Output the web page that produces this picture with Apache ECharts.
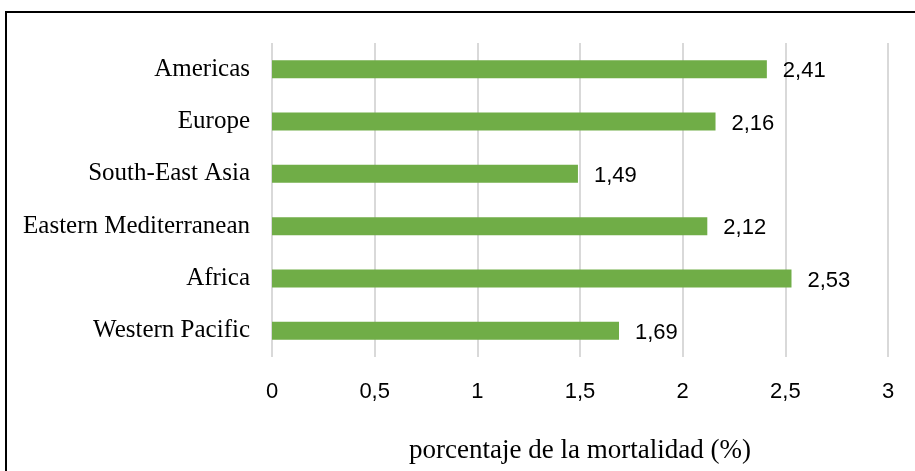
<!DOCTYPE html>
<html>
<head>
<meta charset="utf-8">
<script src="https://cdn.jsdelivr.net/npm/echarts@6/dist/echarts.min.js"></script>
<style>
  html, body { margin: 0; padding: 0; background: #fff; }
  #chart { width: 915px; height: 471px; }
</style>
</head>
<body>
<div id="chart"></div>
<script>
// Regions, listed top to bottom
const regions = ['Americas', 'Europe', 'South-East Asia', 'Eastern Mediterranean', 'Africa', 'Western Pacific'];
// Mortality percentage per region
const mortality = [2.41, 2.16, 1.49, 2.12, 2.53, 1.69];
// Axis settings
const xMin = 0, xMax = 3, xStep = 0.5;
const axisTitle = 'porcentaje de la mortalidad (%)';

const fmt = v => String(v).replace('.', ',');

const chart = echarts.init(document.getElementById('chart'), null, { renderer: 'canvas' });
chart.setOption({
  animation: false,
  backgroundColor: '#ffffff',
  grid: { left: 272, right: 27, top: 43, bottom: 114, containLabel: false },
  graphic: [{
    type: 'rect',
    shape: { x: 6, y: 12, width: 930, height: 480 },
    style: { fill: 'none', stroke: '#000', lineWidth: 2 },
    silent: true
  }],
  xAxis: {
    type: 'value',
    min: xMin, max: xMax, interval: xStep,
    axisLine: { show: false },
    axisTick: { show: false },
    splitLine: { show: true, lineStyle: { color: '#d9d9d9', width: 2 } },
    axisLabel: {
      color: '#000', fontFamily: 'Liberation Sans', fontSize: 22, margin: 24,
      formatter: v => fmt(v)
    },
    name: axisTitle,
    nameLocation: 'middle',
    nameGap: 80,
    nameTextStyle: { color: '#000', fontFamily: 'Liberation Serif', fontSize: 27, verticalAlign: 'top' }
  },
  yAxis: {
    type: 'category',
    data: regions,
    inverse: true,
    axisLine: { show: false },
    axisTick: { show: false },
    splitLine: { show: false },
    axisLabel: { color: '#000', fontFamily: 'Liberation Serif', fontSize: 25, margin: 22 }
  },
  series: [{
    type: 'bar',
    data: mortality,
    barWidth: 18,
    itemStyle: { color: '#70ad47' },
    label: {
      show: true, position: 'right', distance: 16, offset: [0, 2],
      color: '#000', fontFamily: 'Liberation Sans', fontSize: 22,
      formatter: p => fmt(p.value)
    }
  }]
});
</script>
</body>
</html>
